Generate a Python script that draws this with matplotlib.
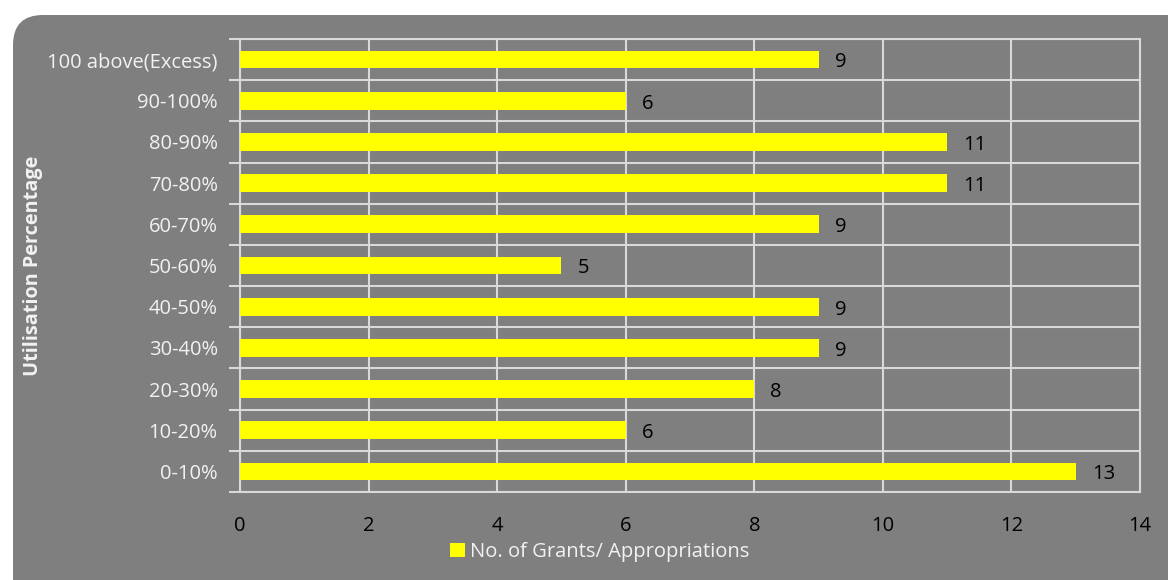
import matplotlib
matplotlib.use("Agg")
import matplotlib.pyplot as plt
from matplotlib.patches import FancyBboxPatch, Patch

# data
categories = ["0-10%", "10-20%", "20-30%", "30-40%", "40-50%", "50-60%",
              "60-70%", "70-80%", "80-90%", "90-100%", "100 above(Excess)"]
grants = [13, 6, 8, 9, 9, 5, 9, 11, 11, 6, 9]
series_name = "No. of Grants/ Appropriations"
x_ticks = [0, 2, 4, 6, 8, 10, 12, 14]

plt.rcParams['font.family'] = ['Open Sans', 'DejaVu Sans']

bg = '#7f7f7f'
grid_c = '#d9d9d9'
fs = 14.5

fig = plt.figure(figsize=(11.68, 5.8), dpi=100)
W, H = 1168, 580

# rounded grey panel, drawn in pixel units on a background axes
bax = fig.add_axes([0, 0, 1, 1], zorder=-1)
bax.set_xlim(0, W)
bax.set_ylim(H, 0)
bax.axis('off')
bax.add_patch(FancyBboxPatch((13, 15), W + 20, H + 20,
                             boxstyle="round,pad=0,rounding_size=30",
                             facecolor=bg, edgecolor='none'))

ax = fig.add_axes([240 / W, 1 - 492 / H, 900 / W, (492 - 39) / H])
ax.set_facecolor('none')

y = range(len(categories))
ax.barh(y, grants, height=0.43, color='#ffff00', zorder=3)

for yi, v in zip(y, grants):
    ax.text(v + 0.25, yi - 0.07, str(v), va='center', ha='left', fontsize=fs, color='black', zorder=4)

ax.set_xlim(0, 14)
ax.set_ylim(-0.5, len(categories) - 0.5)
ax.set_xticks(x_ticks)
ax.set_xticklabels([str(t) for t in x_ticks], fontsize=fs, color='black')
ax.tick_params(axis='x', length=0, pad=17)

ax.set_yticks(list(y))
ax.set_yticklabels(categories, fontsize=fs, color='#f2f2f2')
ax.tick_params(axis='y', length=0, pad=16)
# boundary ticks
ax.set_yticks([i - 0.5 for i in range(len(categories) + 1)], minor=True)
ax.tick_params(axis='y', which='minor', length=8, width=1.5, color=grid_c, direction='out')

ax.grid(True, axis='x', color=grid_c, linewidth=1.5, zorder=1)
ax.grid(True, axis='y', which='minor', color=grid_c, linewidth=1.5, zorder=1)
ax.set_axisbelow(True)
for s in ax.spines.values():
    s.set_color(grid_c)
    s.set_linewidth(1.5)

fig.text(33 / W, 1 - 266 / H, "Utilisation Percentage", rotation=90, ha='center', va='center',
         fontsize=14.3, fontweight='bold', color='#f2f2f2')

fig.legend(handles=[Patch(facecolor='#ffff00', edgecolor='none')], labels=[series_name],
           loc='center', bbox_to_anchor=(600 / W, 1 - 552 / H), frameon=False,
           fontsize=fs, labelcolor='#f2f2f2', handlelength=0.75, handleheight=0.75,
           handletextpad=0.25)

fig.savefig("out.png", dpi=100, facecolor='white')
